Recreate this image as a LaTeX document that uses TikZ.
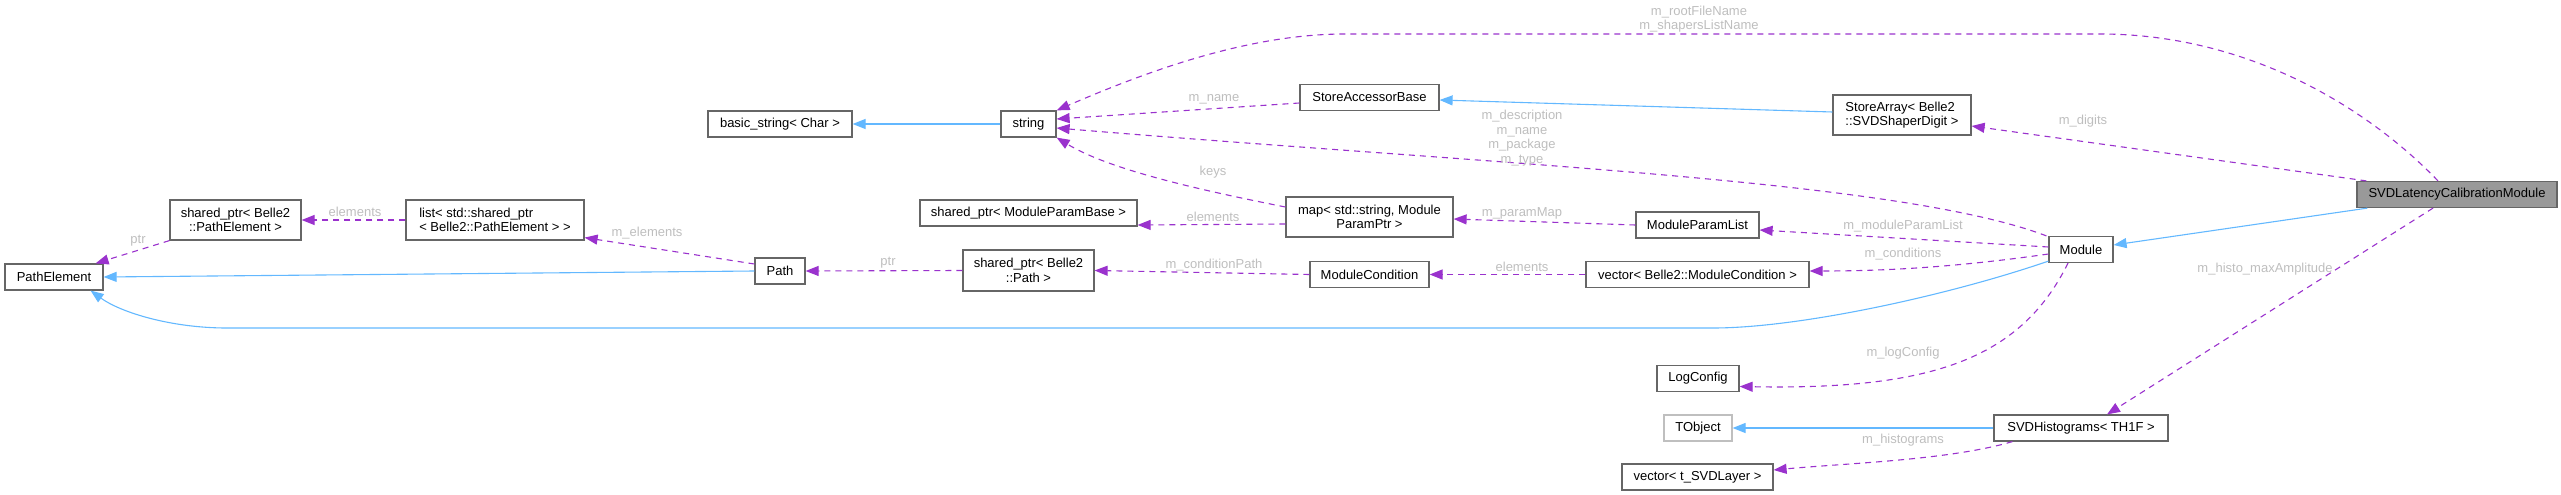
\documentclass[tikz,border=0pt]{standalone}
\usepackage{fontspec}
\setmainfont{Liberation Sans}
\usetikzlibrary{arrows.meta}
\definecolor{inhc}{HTML}{63B8FF}
\definecolor{depc}{HTML}{9A32CD}
\definecolor{lblc}{HTML}{BEBEBE}
\definecolor{bordc}{HTML}{666666}
\definecolor{hlc}{HTML}{999999}
\definecolor{faintc}{HTML}{BFBFBF}
\begin{document}
\begin{tikzpicture}[x=1pt,y=-1pt,
  font=\fontsize{13}{14.7}\selectfont,
  cls/.style={draw=bordc,line width=1.2pt,fill=white,inner sep=0pt,align=center},
  lbl/.style={text=lblc,inner sep=0pt,align=center},
  inhe/.style={draw=inhc,line width=1.1pt,-{Triangle[length=13pt,width=10pt,fill=inhc]}},
  deps/.style={draw=depc,line width=1.1pt,dash pattern=on 6pt off 5pt,-{Triangle[length=13pt,width=10pt,fill=depc]}}
]
\path[use as bounding box] (0,0) rectangle (2561,495);

% nodes
\node[cls,minimum width=98pt,minimum height=26pt] (PE) at (54,277) {PathElement};
\node[cls,minimum width=131pt,minimum height=40pt] (SPE) at (235.5,220) {shared\_ptr< Belle2\\::PathElement >};
\node[cls,minimum width=178pt,minimum height=40pt,align=left] (LST) at (495,220) {list< std::shared\_ptr\\< Belle2::PathElement > >};
\node[cls,minimum width=144pt,minimum height=26pt] (BSTR) at (780,124) {basic\_string< Char >};
\node[cls,minimum width=55pt,minimum height=26pt] (STR) at (1028.5,124) {string};
\node[cls,minimum width=217pt,minimum height=26pt] (SMPB) at (1028.5,213) {shared\_ptr< ModuleParamBase >};
\node[cls,minimum width=50pt,minimum height=26pt] (PATH) at (780,271) {Path};
\node[cls,minimum width=131pt,minimum height=41pt] (SPATH) at (1028.5,270.5) {shared\_ptr< Belle2\\::Path >};
\node[cls,minimum width=139pt,minimum height=26pt] (SAB) at (1369.5,97.5) {StoreAccessorBase};
\node[cls,minimum width=167pt,minimum height=40pt] (MAP) at (1369.5,217) {map< std::string, Module\\ParamPtr >};
\node[cls,minimum width=119pt,minimum height=26pt] (MC) at (1369.5,274.5) {ModuleCondition};
\node[cls,minimum width=138pt,minimum height=40pt,align=left] (SA) at (1902,115) {StoreArray< Belle2\\::SVDShaperDigit >};
\node[cls,minimum width=123pt,minimum height=26pt] (MPL) at (1697.5,225) {ModuleParamList};
\node[cls,minimum width=223pt,minimum height=26pt] (VMC) at (1697.5,274.5) {vector< Belle2::ModuleCondition >};
\node[cls,minimum width=82pt,minimum height=26pt] (LOG) at (1698,378.5) {LogConfig};
\node[cls,draw=faintc,minimum width=68pt,minimum height=26pt] (TOBJ) at (1698,428) {TObject};
\node[cls,minimum width=151pt,minimum height=26pt] (VSL) at (1697.5,477) {vector< t\_SVDLayer >};
\node[cls,minimum width=64pt,minimum height=26pt] (MOD) at (2081,249.5) {Module};
\node[cls,minimum width=174pt,minimum height=26pt] (SVDH) at (2081,428) {SVDHistograms< TH1F >};
\node[cls,fill=hlc,minimum width=200pt,minimum height=26pt] (SVDL) at (2457,194.5) {SVDLatencyCalibrationModule};

% inheritance edges
\draw[inhe] (STR.west) -- (BSTR.east);
\draw[inhe] ([yshift=3pt]SA.west) -- ([yshift=-2.5pt]SAB.east);
\draw[inhe] ([xshift=11pt]SVDL.south west) -- ([yshift=4.5pt]MOD.east);
\draw[inhe] (PATH.west) -- (PE.east);
\draw[inhe] ([yshift=2pt]MOD.south west) .. controls (1950,295) and (1800,328) .. (1713,328)
   -- (227,328) .. controls (170,328) and (120,312) .. ([xshift=-13pt]PE.south east);
\draw[inhe] (SVDH.west) -- (TOBJ.east);

% usage edges
\draw[deps] ([xshift=-19pt]SVDL.north) .. controls (2370,110) and (2250,34) .. (2100,34)
   -- (1345,34) .. controls (1250,34) and (1150,70) .. (STR.north east);
\draw[deps] ([yshift=-5.5pt]SAB.west) -- ([yshift=5pt]STR.east);
\draw[deps] ([xshift=-2pt]MOD.north west) .. controls (1900,180) and (1500,165) .. ([yshift=-4pt]STR.east);
\draw[deps] ([yshift=10pt]MAP.west) .. controls (1200,190) and (1110,170) .. (STR.south east);
\draw[deps] ([yshift=-7pt]MAP.west) -- ([yshift=-12pt]SMPB.east);
\draw[deps] (MPL.west) -- ([yshift=-2pt]MAP.east);
\draw[deps] ([yshift=2.5pt]MOD.west) -- ([yshift=-5pt]MPL.east);
\draw[deps] ([yshift=-4.5pt]MOD.west) .. controls (1950,268) and (1880,271) .. ([yshift=3.5pt]VMC.east);
\draw[deps] (VMC.west) -- (MC.east);
\draw[deps] (MC.west) -- (SPATH.east);
\draw[deps] (SPATH.west) -- (PATH.east);
\draw[deps] ([yshift=7pt]PATH.west) -- ([yshift=3pt]LST.south east);
\draw[deps] (LST.west) -- (SPE.east);
\draw[deps] (SPE.south west) -- ([xshift=-8pt]PE.north east);
\draw[deps] ([xshift=10pt]SVDL.north west) -- ([yshift=-11pt]SA.east);
\draw[deps] ([xshift=-13pt]MOD.south) .. controls (2020,360) and (1930,390) .. ([yshift=-8pt]LOG.east);
\draw[deps] ([xshift=-24pt]SVDL.south) -- ([xshift=26pt]SVDH.north);
\draw[deps] ([xshift=19pt]SVDH.south west) .. controls (1950,460) and (1850,463) .. ([yshift=7pt]VSL.east);

% labels
\node[lbl] (lRoot) at (1699,19) {m\_rootFileName\\m\_shapersListName};
\node[lbl] (lName) at (1214,99) {m\_name};
\node[lbl] (lDesc) at (1522,138) {m\_description\\m\_name\\m\_package\\m\_type};
\node[lbl] (lKeys) at (1213,172) {keys};
\node[lbl] (lEl1) at (1213,217) {elements};
\node[lbl] (lPMap) at (1522,213) {m\_paramMap};
\node[lbl] (lMPL) at (1903,226) {m\_moduleParamList};
\node[lbl] (lCond) at (1903,254) {m\_conditions};
\node[lbl] (lEl2) at (1522,267) {elements};
\node[lbl] (lCPath) at (1214,265) {m\_conditionPath};
\node[lbl] (lPtr1) at (888,263) {ptr};
\node[lbl] (lMEl) at (647,233) {m\_elements};
\node[lbl] (lEl3) at (355,212) {elements};
\node[lbl] (lPtr2) at (138,241) {ptr};
\node[lbl] (lDig) at (2083,121) {m\_digits};
\node[lbl] (lLog) at (1903,353) {m\_logConfig};
\node[lbl] (lHisto) at (2265,269) {m\_histo\_maxAmplitude};
\node[lbl] (lHists) at (1903,440) {m\_histograms};
\end{tikzpicture}
\end{document}
